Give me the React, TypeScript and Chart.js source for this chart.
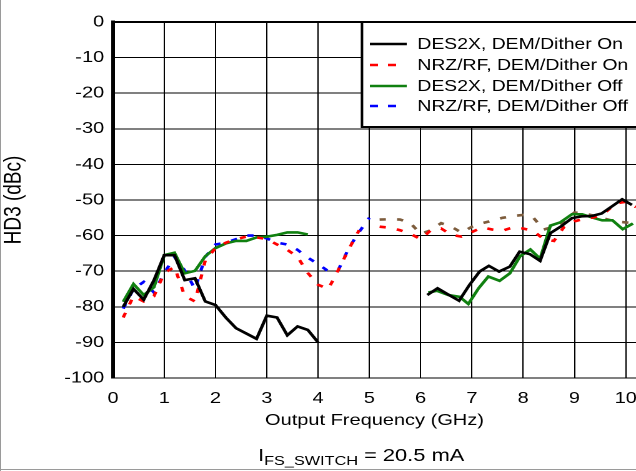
import React, { useEffect, useRef } from 'react';
import { Chart, registerables } from 'chart.js';

Chart.register(...registerables);

// ---------- data ----------
const xTickValues = [0, 1, 2, 3, 4, 5, 6, 7, 8, 9, 10];
const yTickValues = [0, -10, -20, -30, -40, -50, -60, -70, -80, -90, -100];

// DES2X, DEM/Dither On (black)
const desOnX1 = [0.2, 0.4, 0.6, 0.8, 1.0, 1.2, 1.4, 1.6, 1.8, 2.0, 2.2, 2.4, 2.6, 2.8, 3.0, 3.2, 3.4, 3.6, 3.8, 4.0];
const desOnY1 = [-80, -75, -78, -72.5, -65.5, -65.5, -72.5, -72, -78.5, -79.5, -83, -86, -87.5, -89, -82.5, -83, -88, -85.5, -86.5, -90];
const desOnX2 = [6.13, 6.33, 6.53, 6.75, 6.95, 7.15, 7.33, 7.53, 7.74, 7.93, 8.13, 8.33, 8.53, 8.73, 8.95, 9.14, 9.34, 9.53, 9.75, 9.93, 10.12];
const desOnY2 = [-76.7, -74.8, -76.5, -78.3, -73.9, -70.1, -68.5, -70.1, -68.7, -64.5, -65.2, -67.1, -59.3, -57.5, -55.1, -54.6, -54.5, -53.8, -51.6, -49.8, -51.4];

// NRZ/RF, DEM/Dither On (red dashed)
const nrzOnX1 = [0.2, 0.4, 0.6, 0.8, 1.0, 1.2, 1.4, 1.6, 1.8, 2.0, 2.2, 2.4, 2.6, 2.8, 3.0, 3.2, 3.4, 3.6, 3.8, 4.0, 4.2, 4.4, 4.6, 4.8];
const nrzOnY1 = [-83, -77, -78.5, -77, -70.5, -68.8, -77, -78.5, -67, -63.5, -62, -61, -60.3, -60.5, -61, -62.5, -64, -66, -70.5, -73.8, -75, -69.5, -63.8, -58.5];
const nrzOnX2 = [5.2, 5.4, 5.6, 5.8, 6.0, 6.2, 6.4, 6.6, 6.8, 7.0, 7.2, 7.4, 7.6, 7.8, 8.0, 8.2, 8.4, 8.6, 8.8, 9.0, 9.2, 9.4, 9.6, 9.8, 10.0, 10.2];
const nrzOnY2 = [-57.5, -57.8, -58.5, -59.5, -61, -58.5, -58, -59.8, -60.3, -59, -57.7, -58.3, -58.6, -57.7, -58, -58.7, -61, -61.5, -57.5, -56, -55.2, -54.8, -53.5, -51, -50.5, -52];

// DES2X, DEM/Dither Off (green)
const desOffX1 = [0.2, 0.4, 0.6, 0.8, 1.0, 1.2, 1.4, 1.6, 1.8, 2.0, 2.2, 2.4, 2.6, 2.8, 3.0, 3.2, 3.4, 3.6, 3.8];
const desOffY1 = [-78.6, -73.6, -76.7, -74.5, -65.5, -64.8, -70.6, -69.9, -65.8, -63.5, -62.2, -61.5, -61.5, -60.5, -60.3, -59.8, -59.1, -59.1, -59.7];
const desOffX2 = [6.15, 6.32, 6.54, 6.76, 6.93, 7.13, 7.32, 7.54, 7.74, 7.94, 8.14, 8.33, 8.53, 8.72, 8.95, 9.15, 9.34, 9.54, 9.74, 9.94, 10.14];
const desOffY2 = [-76, -75.5, -76.7, -77.2, -79.2, -74.8, -71.5, -72.7, -70.6, -65.8, -63.9, -66.5, -57.2, -56.3, -54, -54, -54.9, -55.7, -55.7, -58.2, -56.6];

// NRZ/RF, DEM/Dither Off (blue dashed, continues in brown above 5 GHz)
const nrzOffX1 = [0.2, 0.4, 0.6, 0.8, 1.0, 1.2, 1.4, 1.6, 1.8, 2.0, 2.2, 2.4, 2.6, 2.8, 3.0, 3.2, 3.4, 3.6, 3.8, 4.0, 4.2, 4.4, 4.6, 4.8, 5.0];
const nrzOffY1 = [-80.5, -75, -73, -76, -70.5, -66, -69.8, -75, -66, -62.5, -62, -61, -60, -60, -60.8, -62, -62.5, -64, -66.2, -68, -70, -69.5, -63.5, -59, -55];
const nrzOffX2 = [5.2, 5.4, 5.6, 5.8, 6.0, 6.2, 6.4, 6.6, 6.8, 7.0, 7.2, 7.4, 7.6, 7.8, 8.0, 8.2, 8.4, 8.6, 8.8, 9.0, 9.2, 9.4, 9.6, 9.8, 10.0, 10.2];
const nrzOffY2 = [-55.5, -55.4, -55.5, -56.5, -59.5, -58.5, -56.5, -57.5, -59.2, -57.5, -56.5, -55.8, -55, -54.5, -54.2, -55, -58.3, -57.5, -56, -53.5, -53.8, -54.5, -55.3, -56, -56.3, -56.5];

const seriesLabels = [
  'DES2X, DEM/Dither On',
  'NRZ/RF, DEM/Dither On',
  'DES2X, DEM/Dither Off',
  'NRZ/RF, DEM/Dither Off',
];
const xTitle = 'Output Frequency (GHz)';
const yTitle = 'HD3 (dBc)';

// ---------- helpers ----------
const W_INT = 509; // internal canvas width, shown stretched to 636px
const H = 471;
const FONT = "'Liberation Sans', Arial, sans-serif";

function seg(xs: number[], ys: number[]) {
  return xs.map((x, i) => ({ x, y: ys[i] }));
}
function joined(x1: number[], y1: number[], x2: number[], y2: number[]) {
  const gapX = (x1[x1.length - 1] + x2[0]) / 2;
  return [...seg(x1, y1), { x: gapX, y: null as any }, ...seg(x2, y2)];
}

const legendPlugin = {
  id: 'boxLegend',
  afterDraw(chart: any) {
    const ctx = chart.ctx as CanvasRenderingContext2D;
    const left = 289.7;
    const top = 22;
    const bottom = 127;
    ctx.save();
    ctx.fillStyle = '#fff';
    ctx.fillRect(left, top, W_INT - left + 5, bottom - top);
    ctx.strokeStyle = '#000';
    ctx.lineWidth = 2;
    ctx.strokeRect(left, top, W_INT - left + 5, bottom - top);
    const rows = [44, 65, 86, 106];
    chart.data.datasets.forEach((ds: any, i: number) => {
      const y = rows[i];
      const dashed = ds.borderDash && ds.borderDash.length;
      ctx.beginPath();
      ctx.strokeStyle = ds.borderColor;
      ctx.lineWidth = ds.borderWidth;
      ctx.setLineDash(dashed ? [6.5, 8] : []);
      ctx.moveTo(296, y);
      ctx.lineTo(dashed ? 317 : 325.5, y);
      ctx.stroke();
      ctx.setLineDash([]);
      ctx.fillStyle = '#000';
      ctx.font = `15.5px ${FONT}`;
      ctx.textBaseline = 'middle';
      ctx.textAlign = 'left';
      ctx.fillText(ds.label, 334, y + 0.5);
    });
    ctx.restore();
  },
};

const subtitlePlugin = {
  id: 'subtitleText',
  afterDraw(chart: any) {
    const ctx = chart.ctx as CanvasRenderingContext2D;
    ctx.save();
    ctx.fillStyle = '#000';
    ctx.textBaseline = 'alphabetic';
    ctx.textAlign = 'left';
    let x = 206.5;
    const base = 461;
    ctx.font = `17.5px ${FONT}`;
    ctx.fillText('I', x, base);
    x += ctx.measureText('I').width;
    ctx.font = `13px ${FONT}`;
    ctx.fillText('FS_SWITCH', x, base + 4);
    x += ctx.measureText('FS_SWITCH').width;
    ctx.font = `17.5px ${FONT}`;
    ctx.fillText(' = 20.5 mA', x, base);
    ctx.restore();
  },
};

export default function App() {
  const ref = useRef<HTMLCanvasElement>(null);

  useEffect(() => {
    const canvas = ref.current;
    if (!canvas) return;
    const tickFont = { family: FONT, size: 16 };
    const chart = new Chart(canvas, {
      type: 'line',
      data: {
        datasets: [
          {
            label: seriesLabels[0],
            data: joined(desOnX1, desOnY1, desOnX2, desOnY2),
            borderColor: '#000000',
            borderWidth: 2.6,
            borderDash: [],
          },
          {
            label: seriesLabels[1],
            data: joined(nrzOnX1, nrzOnY1, nrzOnX2, nrzOnY2),
            borderColor: '#ff0000',
            borderWidth: 2.6,
            borderDash: [5, 9],
          },
          {
            label: seriesLabels[2],
            data: joined(desOffX1, desOffY1, desOffX2, desOffY2),
            borderColor: '#108010',
            borderWidth: 2.6,
            borderDash: [],
          },
          {
            label: seriesLabels[3],
            data: joined(nrzOffX1, nrzOffY1, nrzOffX2, nrzOffY2),
            borderColor: '#0000ff',
            borderWidth: 2.6,
            borderDash: [5, 9],
            segment: {
              borderColor: (c: any) => (c.p0.parsed.x >= 5.1 ? '#7d5c3c' : '#0000ff'),
            },
          },
        ] as any,
      },
      options: {
        animation: false,
        responsive: false,
        devicePixelRatio: 2,
        spanGaps: false,
        layout: { padding: { top: 22, bottom: 33, left: 0, right: 0 } },
        elements: { point: { radius: 0 }, line: { tension: 0 } },
        plugins: { legend: { display: false }, tooltip: { enabled: false } },
        scales: {
          x: {
            type: 'linear',
            min: 0,
            max: 10.2,
            afterBuildTicks: (s: any) => {
              s.ticks = xTickValues.map((v) => ({ value: v }));
            },
            ticks: {
              stepSize: 1,
              includeBounds: false,
              autoSkip: false,
              maxRotation: 0,
              padding: 11,
              color: '#000',
              font: tickFont,
            },
            grid: { color: '#000', lineWidth: 1, drawTicks: false },
            border: { color: '#000', width: 1 },
            title: {
              display: true,
              text: xTitle,
              color: '#000',
              font: tickFont,
              padding: { top: 0, bottom: 8 },
            },
            afterFit: (s: any) => {
              s.height = 60;
              s.paddingLeft = 0;
              s.paddingRight = 0;
            },
          },
          y: {
            type: 'linear',
            min: -100,
            max: 0,
            afterBuildTicks: (s: any) => {
              s.ticks = yTickValues.slice().reverse().map((v) => ({ value: v }));
            },
            ticks: {
              stepSize: 10,
              padding: 7,
              color: '#000',
              font: tickFont,
            },
            grid: {
              color: '#000',
              lineWidth: (c: any) => (c.tick && c.tick.value === 0 ? 2 : 1),
              drawTicks: false,
            },
            border: { color: '#000', width: 3 },
            title: {
              display: true,
              text: yTitle,
              color: '#000',
              font: { family: FONT, size: 19 },
              padding: { top: 0, bottom: 0 },
            },
            afterFit: (s: any) => {
              s.width = 90.4;
              s.paddingTop = 0;
              s.paddingBottom = 0;
            },
          },
        },
      } as any,
      plugins: [legendPlugin, subtitlePlugin],
    });
    return () => chart.destroy();
  }, []);

  return (
    <div
      style={{
        position: 'fixed',
        left: 0,
        top: 0,
        width: 636,
        height: H,
        background: '#fff',
        overflow: 'hidden',
      }}
    >
      <canvas
        ref={ref}
        width={W_INT}
        height={H}
        style={{ width: '636px', height: `${H}px`, display: 'block' }}
      />
      <div style={{ position: 'absolute', left: 0, top: 0, width: 1, height: H, background: '#9a9a9a' }} />
      <div style={{ position: 'absolute', left: 0, top: 469, width: 636, height: 1, background: '#9a9a9a' }} />
    </div>
  );
}
